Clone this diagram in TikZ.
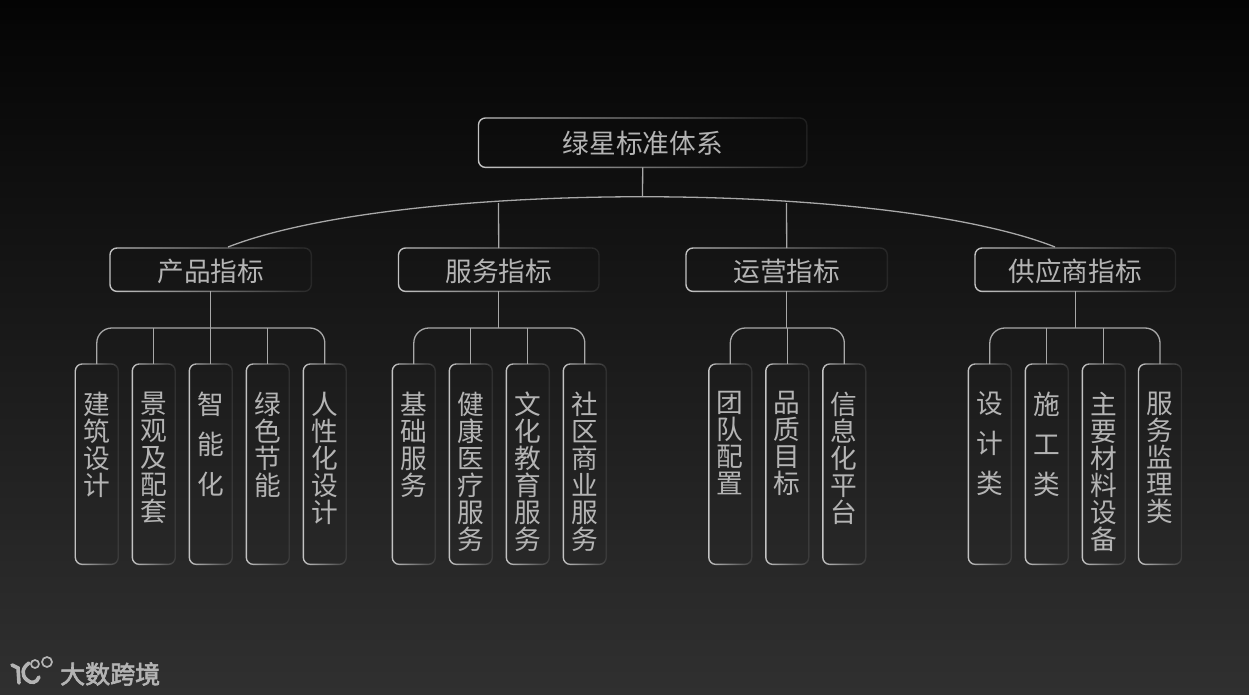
\documentclass[tikz,border=0pt]{standalone}
\usepackage{fontspec}
\setmainfont{Noto Sans CJK SC}
\newfontfamily\logofont[FakeBold=2.5]{Noto Sans CJK SC}
\usetikzlibrary{fadings,calc}
\definecolor{bgtop}{HTML}{040404}
\definecolor{bgbot}{HTML}{303030}
\definecolor{ink}{HTML}{B4B4B4}
\definecolor{edgecol}{HTML}{C4C4C4}
\definecolor{linecol}{HTML}{A8A8A8}
\tikzfading[name=fadeR,left color=transparent!0,right color=transparent!90]
\tikzset{
  hbox/.style={inner sep=0pt,text=ink,font=\fontsize{26.7}{30}\selectfont,anchor=north west,text height=23pt,text depth=0pt},
  vbox/.style={inner sep=0pt,text=ink,anchor=north,minimum width=42.6pt,minimum height=200pt},
  boxedge/.style={line width=1.4pt,draw=edgecol,path fading=fadeR,rounded corners=7pt},
  conn/.style={line width=1.3pt,draw=linecol},
}
\newcommand{\vlabel}[2][27pt]{\parbox[c][200pt][t]{42.6pt}{\lineskiplimit=-100pt\centering\fontsize{26.7}{#1}\selectfont\vspace*{27.5pt}#2}}
\begin{document}
\begin{tikzpicture}[x=1pt,y=-1pt]
\useasboundingbox (0,0) rectangle (1249,695);
\fill[top color=bgtop,bottom color=bgbot] (0,0) rectangle (1249,695);
% root
\node[hbox,text height=22pt,minimum width=328pt,minimum height=49pt] (root) at (478.5,118) {绿星标准体系};
% level 2
\node[hbox,minimum width=201pt,minimum height=43pt] (b1) at (110,248) {产品指标};
\node[hbox,minimum width=200pt,minimum height=43pt] (b2) at (398.5,248) {服务指标};
\node[hbox,minimum width=201pt,minimum height=43pt] (b3) at (686,248) {运营指标};
\node[hbox,minimum width=200pt,minimum height=43pt] (b4) at (975,248) {供应商指标};
% level 3
\node[vbox] (a1) at (96.8,364) {\vlabel{建\\筑\\设\\计}};
\node[vbox] (a2) at (153.8,364) {\vlabel{景\\观\\及\\配\\套}};
\node[vbox] (a3) at (210.8,364) {\vlabel[40pt]{智\\能\\化}};
\node[vbox] (a4) at (267.8,364) {\vlabel{绿\\色\\节\\能}};
\node[vbox] (a5) at (324.8,364) {\vlabel{人\\性\\化\\设\\计}};
\node[vbox] (s1) at (413.8,364) {\vlabel{基\\础\\服\\务}};
\node[vbox] (s2) at (470.8,364) {\vlabel{健\\康\\医\\疗\\服\\务}};
\node[vbox] (s3) at (527.8,364) {\vlabel{文\\化\\教\\育\\服\\务}};
\node[vbox] (s4) at (584.8,364) {\vlabel{社\\区\\商\\业\\服\\务}};
\node[vbox] (o1) at (730.3,364) {\vlabel{团\\队\\配\\置}};
\node[vbox] (o2) at (787.3,364) {\vlabel{品\\质\\目\\标}};
\node[vbox] (o3) at (844.3,364) {\vlabel{信\\息\\化\\平\\台}};
\node[vbox] (g1) at (989.8,364) {\vlabel[40pt]{设\\计\\类}};
\node[vbox] (g2) at (1046.8,364) {\vlabel[40pt]{施\\工\\类}};
\node[vbox] (g3) at (1103.8,364) {\vlabel{主\\要\\材\\料\\设\\备}};
\node[vbox] (g4) at (1160,364) {\vlabel{服\\务\\监\\理\\类}};
% box outlines, fading to the right
\foreach \n in {root,b1,b2,b3,b4,a1,a2,a3,a4,a5,s1,s2,s3,s4,o1,o2,o3,g1,g2,g3,g4}
  \draw[boxedge] (\n.south west) rectangle (\n.north east);
% arc
\coordinate (arcL) at (228,247);
\coordinate (arcR) at (1055,247);
\coordinate (arcTop) at (642.5,197);
\coordinate (arcB2) at (498.5,203);
\coordinate (arcB3) at (786.5,203);
\draw[conn] (arcL) .. controls (400,180) and (885,180) .. (arcR);
\draw[conn] (root.south) -- (arcTop);
\draw[conn] (b2.north) -- (arcB2);
\draw[conn] (b3.north) -- (arcB3);
% buses
\foreach \p/\f/\l/\m in {b1/a1/a5/{a2,a3,a4},b2/s1/s4/{s2,s3},b3/o1/o3/{o2},b4/g1/g4/{g2,g3}}{
  \coordinate (bus) at (0,328);
  \draw[conn,rounded corners=15pt] (\f.north) -- (\f.north |- bus) -- (\l.north |- bus) -- (\l.north);
  \draw[conn] (\p.south) -- (\p.south |- bus);
  \foreach \c in \m { \draw[conn] (\c.north) -- (\c.north |- bus); }
}
% logo
\begin{scope}[draw=ink,line cap=round]
\draw[line width=3.6pt] (12,665) -- (18,668) -- (19,683);
\draw[line width=3.6pt] (29,663) .. controls (22,668) and (21,675) .. (27,680) .. controls (31,684) and (37,683) .. (39,677);
\end{scope}
\draw[ink,line width=1.7pt] (35,664) circle (4pt);
\draw[ink,line width=1.7pt] (47,662) circle (5pt);
\node[inner sep=0pt,anchor=west,text=ink,font=\logofont\fontsize{25}{25}\selectfont] (logo) at (60,674) {大数跨境};
\end{tikzpicture}
\end{document}
